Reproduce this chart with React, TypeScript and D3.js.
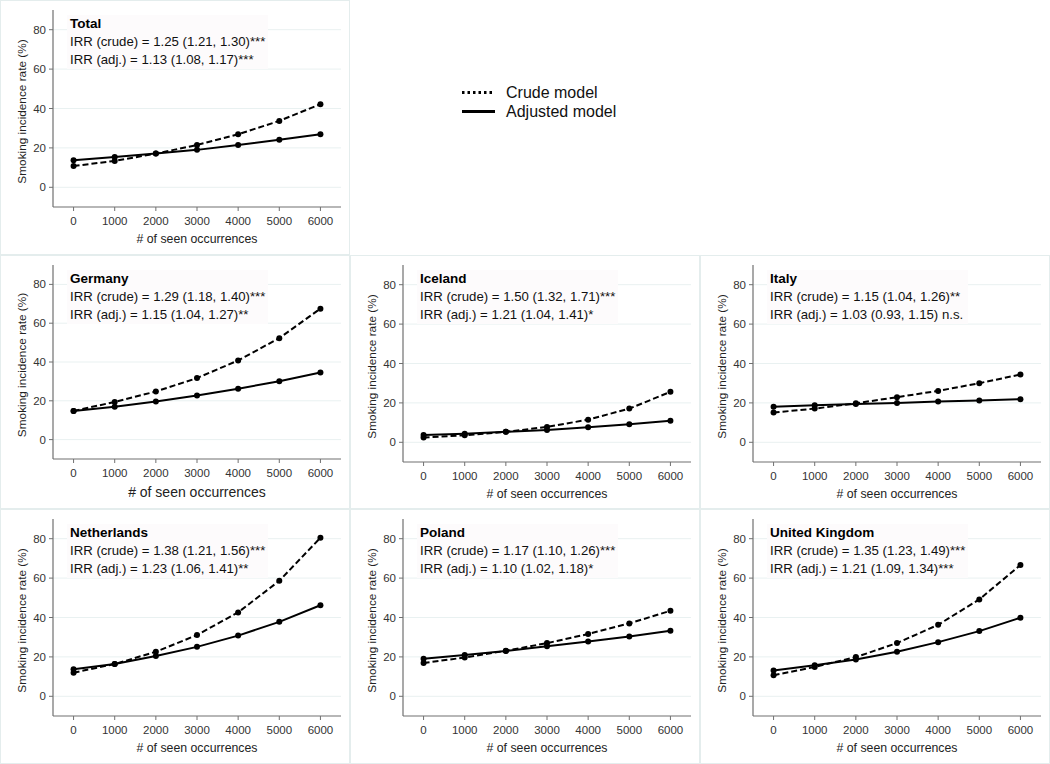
import React from "react";
import * as d3 from "d3";

const exposure = [0, 1000, 2000, 3000, 4000, 5000, 6000];
const xTicks = [0, 1000, 2000, 3000, 4000, 5000, 6000];
const yTicks = [0, 20, 40, 60, 80];

const countries = ["Total", "Germany", "Iceland", "Italy", "Netherlands", "Poland", "United Kingdom"];

const crudeTotal = [10.8, 13.4, 17.1, 21.5, 26.9, 33.7, 42.2];
const adjTotal = [13.7, 15.4, 17.1, 19.0, 21.5, 24.1, 26.9];
const crudeGermany = [14.8, 19.4, 24.8, 31.7, 40.8, 52.3, 67.5];
const adjGermany = [14.8, 16.9, 19.6, 22.7, 26.2, 30.1, 34.6];
const crudeIceland = [2.4, 3.6, 5.3, 7.8, 11.5, 17.1, 25.6];
const adjIceland = [3.7, 4.4, 5.3, 6.3, 7.6, 9.2, 11.0];
const crudeItaly = [15.1, 17.1, 19.8, 22.9, 26.1, 30.0, 34.4];
const adjItaly = [18.1, 18.8, 19.5, 20.0, 20.7, 21.2, 21.9];
const crudeNetherlands = [12.0, 16.4, 22.6, 31.1, 42.6, 58.6, 80.5];
const adjNetherlands = [13.7, 16.4, 20.5, 25.1, 30.8, 37.8, 46.2];
const crudePoland = [16.9, 19.7, 23.1, 27.0, 31.6, 37.0, 43.4];
const adjPoland = [19.1, 21.0, 23.0, 25.4, 27.8, 30.4, 33.3];
const crudeUK = [10.7, 14.9, 19.9, 27.0, 36.3, 49.2, 66.6];
const adjUK = [13.1, 15.8, 18.7, 22.6, 27.5, 33.1, 39.9];

const crudeLabels = [
  "IRR (crude) = 1.25 (1.21, 1.30)***",
  "IRR (crude) = 1.29 (1.18, 1.40)***",
  "IRR (crude) = 1.50 (1.32, 1.71)***",
  "IRR (crude) = 1.15 (1.04, 1.26)**",
  "IRR (crude) = 1.38 (1.21, 1.56)***",
  "IRR (crude) = 1.17 (1.10, 1.26)***",
  "IRR (crude) = 1.35 (1.23, 1.49)***",
];
const adjLabels = [
  "IRR (adj.) = 1.13 (1.08, 1.17)***",
  "IRR (adj.) = 1.15 (1.04, 1.27)**",
  "IRR (adj.) = 1.21 (1.04, 1.41)*",
  "IRR (adj.) = 1.03 (0.93, 1.15) n.s.",
  "IRR (adj.) = 1.23 (1.06, 1.41)**",
  "IRR (adj.) = 1.10 (1.02, 1.18)*",
  "IRR (adj.) = 1.21 (1.09, 1.34)***",
];
const crudeSeries = [crudeTotal, crudeGermany, crudeIceland, crudeItaly, crudeNetherlands, crudePoland, crudeUK];
const adjSeries = [adjTotal, adjGermany, adjIceland, adjItaly, adjNetherlands, adjPoland, adjUK];

const legendLabels = ["Crude model", "Adjusted model"];
const xTitle = "# of seen occurrences";
const yTitle = "Smoking incidence rate (%)";

const FONT = "'Liberation Sans', Arial, Helvetica, sans-serif";
const W = 1050;
const H = 764;
const colX = [0, 350, 700];
const rowY = [0, 255, 509];
const positions = [
  [0, 0],
  [0, 1],
  [1, 1],
  [2, 1],
  [0, 2],
  [1, 2],
  [2, 2],
];

function Panel({ idx }: { idx: number }) {
  const [c, r] = positions[idx];
  const ox = colX[c];
  const oy = rowY[r];
  const big = idx === 1;
  const bottom = big ? 204 : 207;
  const x = d3.scaleLinear().domain([-500, 6500]).range([53, 341]);
  const y = d3.scaleLinear().domain([-10, 90]).range([bottom, 10]);
  const crude = crudeSeries[idx];
  const adj = adjSeries[idx];
  const line = d3
    .line<number>()
    .x((_, i) => x(exposure[i]))
    .y((d) => y(d));
  return (
    <g transform={`translate(${ox},${oy})`}>
      {yTicks.map((t) => (
        <line key={"g" + t} x1={53} x2={341} y1={y(t)} y2={y(t)} stroke="#e9f1f1" strokeWidth={1} />
      ))}
      <rect x={67} y={15} width={201} height={54} fill="#fdfbfc" />
      {/* y axis */}
      <line x1={53} x2={53} y1={10} y2={bottom} stroke="#707070" strokeWidth={1.2} />
      {yTicks.map((t) => (
        <g key={"y" + t}>
          <line x1={49} x2={53} y1={y(t)} y2={y(t)} stroke="#707070" strokeWidth={1} />
          <text x={46} y={y(t)} dy="0.35em" textAnchor="end" fontSize={11.5} fill="#333" fontFamily={FONT}>
            {t}
          </text>
        </g>
      ))}
      {/* x axis */}
      <line x1={53} x2={341} y1={bottom} y2={bottom} stroke="#707070" strokeWidth={1.2} />
      {xTicks.map((t) => (
        <g key={"x" + t}>
          <line x1={x(t)} x2={x(t)} y1={bottom} y2={bottom + 4} stroke="#707070" strokeWidth={1} />
          <text x={x(t)} y={bottom + 18} textAnchor="middle" fontSize={11.5} fill="#333" fontFamily={FONT}>
            {t}
          </text>
        </g>
      ))}
      <text
        x={(53 + 341) / 2}
        y={big ? bottom + 38 : bottom + 36}
        textAnchor="middle"
        fontSize={big ? 14 : 12.3}
        fill="#222"
        fontFamily={FONT}
      >
        {xTitle}
      </text>
      <text
        transform={`translate(26,${(10 + bottom) / 2 + 3}) rotate(-90)`}
        textAnchor="middle"
        fontSize={11.8}
        fill="#222"
        fontFamily={FONT}
      >
        {yTitle}
      </text>
      {/* lines */}
      <path d={line(adj) || ""} fill="none" stroke="#000" strokeWidth={2} />
      <path d={line(crude) || ""} fill="none" stroke="#000" strokeWidth={2} strokeDasharray="6,3" />
      {adj.map((v, i) => (
        <circle key={"a" + i} cx={x(exposure[i])} cy={y(v)} r={3} fill="#000" />
      ))}
      {crude.map((v, i) => (
        <circle key={"c" + i} cx={x(exposure[i])} cy={y(v)} r={3} fill="#000" />
      ))}
      {/* labels */}
      <text x={70} y={28} fontSize={13.5} fontWeight="bold" fill="#000" fontFamily={FONT}>
        {countries[idx]}
      </text>
      <text x={70} y={46} fontSize={13.2} fill="#111" fontFamily={FONT}>
        {crudeLabels[idx]}
      </text>
      <text x={70} y={64} fontSize={13.2} fill="#111" fontFamily={FONT}>
        {adjLabels[idx]}
      </text>
    </g>
  );
}

export default function App() {
  const borderColor = "#e4eded";
  return (
    <svg
      width={W}
      height={H}
      style={{ position: "absolute", left: 0, top: 0, background: "#fff" }}
      fontFamily={FONT}
    >
      <rect x={0} y={0} width={W} height={H} fill="#fff" />
      {/* panel borders */}
      <rect x={0.5} y={0.5} width={349} height={254} fill="none" stroke={borderColor} />
      {[1, 2].map((r) =>
        [0, 1, 2].map((c) => (
          <rect
            key={`b${r}${c}`}
            x={colX[c] + 0.5}
            y={rowY[r] + 0.5}
            width={349}
            height={(r === 1 ? rowY[2] : H) - rowY[r] - 1}
            fill="none"
            stroke={borderColor}
          />
        ))
      )}
      {countries.map((_, i) => (
        <Panel key={i} idx={i} />
      ))}
      {/* legend */}
      <line x1={462} x2={495} y1={92.5} y2={92.5} stroke="#000" strokeWidth={3} strokeDasharray="2.5,3" />
      <text x={506} y={92.5} dy="0.35em" fontSize={16} fill="#111" fontFamily={FONT}>
        {legendLabels[0]}
      </text>
      <line x1={462} x2={495} y1={111.5} y2={111.5} stroke="#000" strokeWidth={3} />
      <text x={506} y={111.5} dy="0.35em" fontSize={16} fill="#111" fontFamily={FONT}>
        {legendLabels[1]}
      </text>
    </svg>
  );
}
